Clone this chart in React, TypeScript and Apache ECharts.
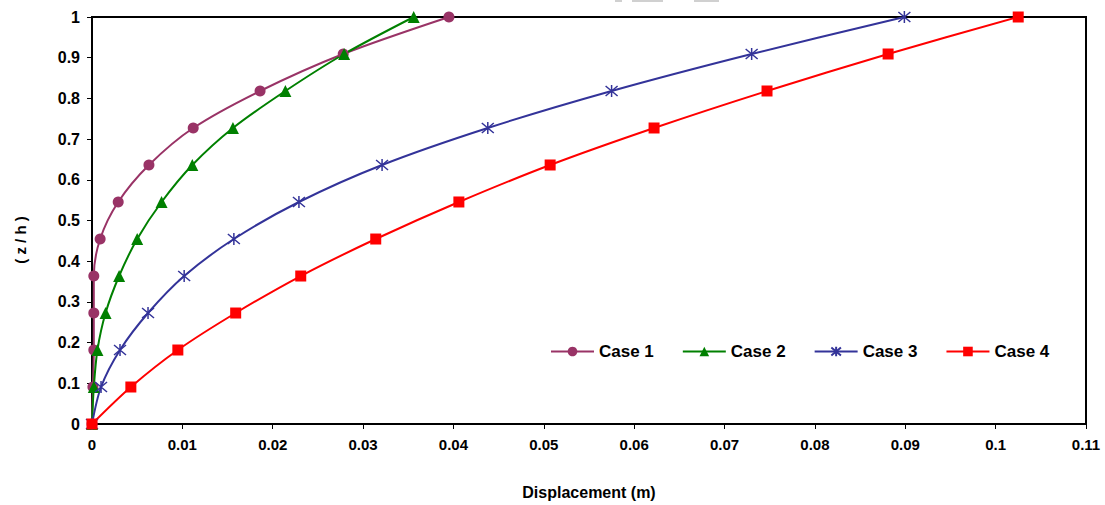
import React, { useEffect, useRef } from "react";
import * as echarts from "echarts";

const zLevels = [0, 0.0909, 0.1818, 0.2727, 0.3636, 0.4545, 0.5455, 0.6364, 0.7273, 0.8182, 0.9091, 1.0];
const case1 = [0, 0.0001, 0.0002, 0.0002, 0.0002, 0.0009, 0.0029, 0.0063, 0.0112, 0.0186, 0.0278, 0.0395];
const case2 = [0, 0.0002, 0.0006, 0.0015, 0.003, 0.005, 0.0077, 0.0111, 0.0156, 0.0214, 0.0279, 0.0356];
const case3 = [0, 0.001, 0.0031, 0.0062, 0.0102, 0.0157, 0.0229, 0.0321, 0.0438, 0.0575, 0.073, 0.0899];
const case4 = [0, 0.0043, 0.0095, 0.0159, 0.0231, 0.0314, 0.0406, 0.0507, 0.0622, 0.0747, 0.0881, 0.1025];
const seriesNames = ["Case 1", "Case 2", "Case 3", "Case 4"];
const yAxisTitle = "( z / h )";
const xAxisTitle = "Displacement (m)";

const FONT = "'Liberation Sans', Arial, sans-serif";

const pair = (xs: number[]) => xs.map((x, i) => [x, zLevels[i]]);

export default function App() {
  const ref = useRef<HTMLDivElement>(null);
  useEffect(() => {
    if (!ref.current) return;
    const chart = echarts.init(ref.current, undefined, { renderer: "svg" });
    const lineBase = { type: "line" as const, smooth: 0.3, showSymbol: true, z: 3 };
    chart.setOption({
      animation: false,
      backgroundColor: "#ffffff",
      textStyle: { fontFamily: FONT },
      grid: {
        left: 92,
        right: 19,
        top: 17,
        bottom: 78,
        show: true,
        borderColor: "#000",
        borderWidth: 2,
        containLabel: false,
      },
      legend: {
        left: 545,
        top: 338,
        itemWidth: 43,
        itemHeight: 12,
        itemGap: 28,
        textStyle: { fontFamily: FONT, fontWeight: "bold", fontSize: 17, color: "#000" },
        data: seriesNames,
      },
      xAxis: {
        type: "value",
        min: 0,
        max: 0.11,
        interval: 0.01,
        name: xAxisTitle,
        nameLocation: "middle",
        nameGap: 60,
        nameTextStyle: { fontFamily: FONT, fontWeight: "bold", fontSize: 16, color: "#000" },
        axisLine: { show: true, lineStyle: { color: "#000", width: 2 } },
        axisTick: { show: true, inside: false, length: 5, lineStyle: { color: "#000" } },
        axisLabel: {
          margin: 13,
          fontFamily: FONT,
          fontWeight: "bold",
          fontSize: 15,
          color: "#000",
          formatter: (v: number) => String(parseFloat(v.toFixed(2))),
        },
        splitLine: { show: false },
      },
      yAxis: {
        type: "value",
        min: 0,
        max: 1,
        interval: 0.1,
        axisLine: { show: true, lineStyle: { color: "#000", width: 2 } },
        axisTick: { show: true, inside: false, length: 5, lineStyle: { color: "#000" } },
        axisLabel: {
          margin: 12,
          fontFamily: FONT,
          fontWeight: "bold",
          fontSize: 16,
          color: "#000",
          formatter: (v: number) => String(parseFloat(v.toFixed(1))),
        },
        splitLine: { show: false },
      },
      graphic: [
        { type: "rect", shape: { x: 615, y: 0, width: 7, height: 2 }, style: { fill: "#d0d0d0" } },
        { type: "rect", shape: { x: 632, y: 0, width: 31, height: 2 }, style: { fill: "#d0d0d0" } },
        { type: "rect", shape: { x: 694, y: 0, width: 25, height: 2 }, style: { fill: "#d0d0d0" } },
        {
          type: "text",
          x: 20,
          y: 240,
          rotation: Math.PI / 2,
          style: {
            text: yAxisTitle,
            fontFamily: FONT,
            fontWeight: "bold",
            fontSize: 15,
            fill: "#000",
            textAlign: "center",
            textVerticalAlign: "middle",
          },
        },
      ],
      series: [
        {
          ...lineBase,
          name: seriesNames[0],
          data: pair(case1),
          symbol: "circle",
          symbolSize: 11,
          color: "#993366",
          lineStyle: { color: "#993366", width: 2 },
          itemStyle: { color: "#993366" },
        },
        {
          ...lineBase,
          name: seriesNames[1],
          data: pair(case2),
          symbol: "triangle",
          symbolSize: 12,
          color: "#008000",
          lineStyle: { color: "#008000", width: 2 },
          itemStyle: { color: "#008000" },
        },
        {
          ...lineBase,
          name: seriesNames[2],
          data: pair(case3),
          symbol: "path://M0,0L10,10M10,0L0,10M5,-1L5,11",
          symbolSize: 12,
          color: "#333399",
          lineStyle: { color: "#333399", width: 2 },
          itemStyle: { color: "none", borderColor: "#333399", borderWidth: 1.5 },
        },
        {
          ...lineBase,
          name: seriesNames[3],
          data: pair(case4),
          symbol: "rect",
          symbolSize: 11,
          color: "#ff0000",
          lineStyle: { color: "#ff0000", width: 2 },
          itemStyle: { color: "#ff0000" },
        },
      ],
    });
    return () => chart.dispose();
  }, []);
  return (
    <div
      ref={ref}
      style={{ position: "fixed", left: 0, top: 0, width: 1105, height: 505, background: "#fff" }}
    />
  );
}
